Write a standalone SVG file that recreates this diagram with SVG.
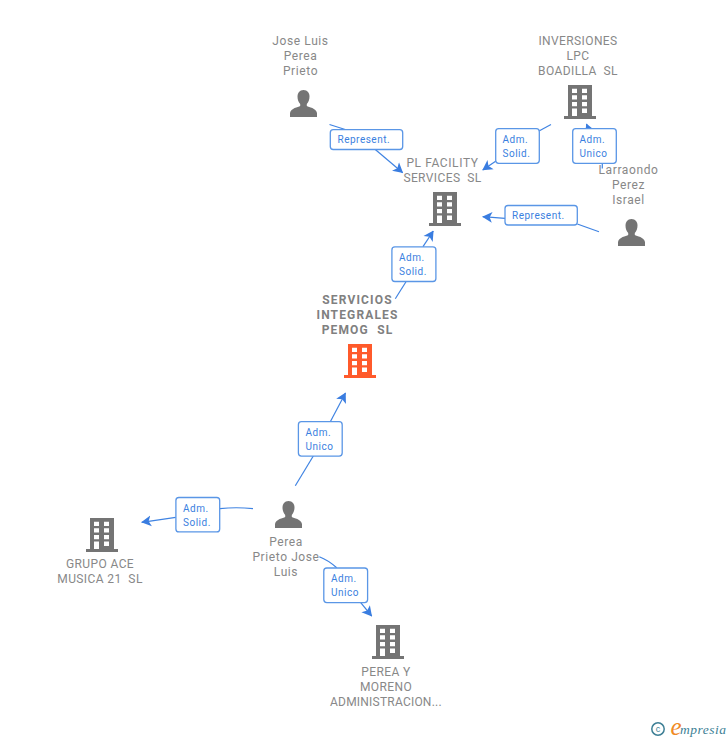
<svg xmlns="http://www.w3.org/2000/svg" width="728" height="740" viewBox="0 0 728 740">
<style>
.t{font-family:Roboto,"Liberation Sans",Arial,sans-serif;font-size:12px;letter-spacing:.6px;fill:#888;text-anchor:middle;white-space:pre}
.u{letter-spacing:.4px}
.b{font-weight:bold;letter-spacing:1.15px;fill:#808080}
.l{font-family:Roboto,"Liberation Sans",Arial,sans-serif;font-size:10px;letter-spacing:.5px;fill:#3a7fe0;white-space:pre}
.box{fill:#fff;stroke:#5a96e6;stroke-width:1.3}
.c{fill:none;stroke:#3f83e2;stroke-width:1.2}
.ico{fill:#747474}
</style>
<defs>
<marker id="a" viewBox="0 0 10 12" refX="9.500" refY="6" markerWidth="10" markerHeight="12" markerUnits="userSpaceOnUse" orient="auto"><path d="M0 .5L10 6L0 11.500L2.500 6Z" fill="#3a7de0"/></marker>
<symbol id="bld" viewBox="0 0 32 34" overflow="visible"><path fill-rule="evenodd" d="M4 0H28V31H32V34H0V31H4ZM8 3.700V8H13V3.700ZM18 3.700V8H23V3.700ZM8 10.300V14.600H13V10.300ZM18 10.300V14.600H23V10.300ZM8 17V21.300H13V17ZM18 17V21.300H23V17ZM8 23.600V31H13V23.600ZM18 23.600V28H23V23.600Z"/></symbol>
<symbol id="per" viewBox="0 0 27 27" overflow="visible"><path d="M13.500 0C17.500 0 19.500 3 19.500 6.500C19.500 9.500 18.500 12 16.800 14V16C19 17.300 26 18 27 23V27H0V23C1 18 8 17.300 10.200 16V14C8.500 12 7.500 9.500 7.500 6.500C7.500 3 9.500 0 13.500 0Z"/></symbol>
</defs>
<g id="connectors">
<path class="c" d="M329.500 124.500L346 129.700"/>
<path class="c" d="M375 149.300L402.700 172.700" marker-end="url(#a)"/>
<path class="c" d="M539 131L551 124.500"/>
<path class="c" d="M496 161L482.700 170" marker-end="url(#a)"/>
<path class="c" d="M602.300 168.500V163L586.500 124" marker-end="url(#a)"/>
<path class="c" d="M577.300 224L599 231.700"/>
<path class="c" d="M505 218.300L482.700 216.700" marker-end="url(#a)"/>
<path class="c" d="M406 281.700L395.300 298.700"/>
<path class="c" d="M423 246.700L433.300 231" marker-end="url(#a)"/>
<path class="c" d="M330.300 421.700L345.500 393" marker-end="url(#a)"/>
<path class="c" d="M313.300 456L295.300 485.700"/>
<path class="c" d="M220 508.700Q236 506.800 253 508.700"/>
<path class="c" d="M175.700 517.300L141.700 522.300" marker-end="url(#a)"/>
<path class="c" d="M319.300 556.700Q328 560 336.700 567.700"/>
<path class="c" d="M360.700 602.700L371.700 616" marker-end="url(#a)"/>
<g id="edge-labels">
<rect class="box" x="330.300" y="129.700" width="72.400" height="19.800" rx="3"/><text class="l" x="337.500" y="143">Represent.</text>
<rect class="box" x="495.700" y="128.700" width="43.600" height="34.600" rx="3"/><text class="l" x="502.500" y="142.500">Adm.</text><text class="l" x="502.500" y="157">Solid.</text>
<rect class="box" x="572.700" y="128.700" width="43.600" height="34.600" rx="3"/><text class="l" x="579.500" y="142.500">Adm.</text><text class="l" x="579.500" y="157">Unico</text>
<rect class="box" x="505" y="205.500" width="72.300" height="19.500" rx="3"/><text class="l" x="512" y="218.500">Represent.</text>
<rect class="box" x="391.900" y="246.900" width="44" height="34.600" rx="3"/><text class="l" x="399" y="260.500">Adm.</text><text class="l" x="399" y="275">Solid.</text>
<rect class="box" x="298.400" y="421.700" width="43.800" height="34.400" rx="3"/><text class="l" x="305.500" y="435.500">Adm.</text><text class="l" x="305.500" y="450">Unico</text>
<rect class="box" x="175.900" y="497.500" width="43.800" height="34.400" rx="3"/><text class="l" x="183" y="511.500">Adm.</text><text class="l" x="183" y="526">Solid.</text>
<rect class="box" x="323.800" y="568" width="43.800" height="34.600" rx="3"/><text class="l" x="331" y="581.500">Adm.</text><text class="l" x="331" y="596">Unico</text>
</g>
</g>
<g id="node-jose"><text class="t" x="300.500" y="45">Jose Luis</text><text class="t" x="300.500" y="60">Perea</text><text class="t" x="300.500" y="75">Prieto</text><use href="#per" class="ico" x="290" y="90" width="27" height="27"/></g>
<g id="node-inversiones"><text class="t u" x="578" y="45">INVERSIONES</text><text class="t u" x="578" y="60">LPC</text><text class="t u" x="578" y="75">BOADILLA  SL</text><use href="#bld" class="ico" x="564" y="85" width="32" height="34"/></g>
<g id="node-pl"><text class="t" x="442.500" y="167">PL FACILITY</text><text class="t u" x="442.500" y="182">SERVICES  SL</text><use href="#bld" class="ico" x="429" y="192" width="32" height="34"/></g>
<g id="node-larraondo"><text class="t" x="628.500" y="174">Larraondo</text><text class="t" x="628.500" y="189">Perez</text><text class="t" x="628.500" y="204">Israel</text><use href="#per" class="ico" x="618" y="219" width="27" height="27"/></g>
<g id="node-servicios"><text class="t b" x="357.500" y="304">SERVICIOS</text><text class="t b" x="357.500" y="319">INTEGRALES</text><text class="t b" x="357.500" y="334">PEMOG  SL</text><use href="#bld" fill="#ff5a2b" x="344" y="344" width="32" height="34"/></g>
<g id="node-perea-jose"><use href="#per" class="ico" x="275" y="501" width="27" height="27"/><text class="t" x="286" y="546">Perea</text><text class="t" x="286" y="561">Prieto Jose</text><text class="t" x="286" y="576">Luis</text></g>
<g id="node-grupo"><use href="#bld" class="ico" x="86" y="518" width="32" height="34"/><text class="t u" x="100" y="568">GRUPO ACE</text><text class="t u" x="100" y="583">MUSICA 21  SL</text></g>
<g id="node-perea-moreno"><use href="#bld" class="ico" x="372" y="625" width="32" height="34"/><text class="t u" x="386" y="676">PEREA Y</text><text class="t u" x="386" y="691">MORENO</text><text class="t u" x="386" y="706" textLength="112">ADMINISTRACION...</text></g>
<g id="logo"><circle cx="658" cy="729" r="6.200" fill="none" stroke="#3d7f95" stroke-width="1.500"/><text x="658" y="732" font-family="Liberation Sans,sans-serif" font-size="9" fill="#3d7f95" text-anchor="middle">c</text><text x="670.500" y="735" font-family="Liberation Serif,serif" font-style="italic" font-size="25" fill="#f08a24">e</text><text x="680" y="733.500" font-family="Liberation Serif,serif" font-style="italic" font-size="13.500" letter-spacing=".5" fill="#3d7f95">mpresia</text></g>
</svg>
